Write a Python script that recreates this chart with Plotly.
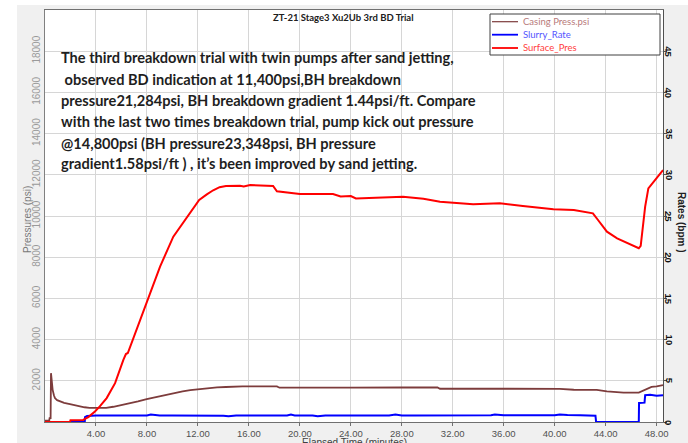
import plotly.graph_objects as go

# ---------------- data ----------------
series_names = ["Casing Press.psi", "Slurry_Rate", "Surface_Pres"]

casing_t = [0, 0.33, 0.36, 0.44, 0.47, 0.52, 0.6, 0.7, 0.78, 0.95, 1.18, 1.5, 1.96, 2.4,
            2.75, 3.1, 3.5, 4.0, 4.3, 4.8, 5.36, 6.0, 6.67, 7.3, 7.98, 8.6, 9.3, 10.07,
            10.8, 11.4, 12.03, 12.8, 13.5, 14.2, 14.8, 15.5, 16.5, 17.5, 18.2, 18.4,
            20, 22, 24, 28, 30.8, 31.0, 34, 38, 40.4, 41.5, 43.3, 44.1, 45.4, 46.6,
            47.2, 47.6, 48.0, 48.5]
casing_psi = [60, 60, 190, 190, 2370, 1900, 1560, 1300, 1160, 1060, 1000, 930, 868, 800,
              755, 715, 690, 676, 674, 690, 740, 820, 917, 1000, 1110, 1200, 1300, 1403,
              1490, 1550, 1597, 1640, 1677, 1700, 1725, 1730, 1730, 1730, 1725, 1665,
              1660, 1660, 1670, 1675, 1677, 1615, 1612, 1612, 1612, 1565, 1560, 1485, 1430, 1430,
              1600, 1700, 1730, 1790]

slurry_t = [0, 3.12, 3.14, 3.3, 4.0, 5.0, 6.0, 7.0, 8.0, 8.3, 9.0, 10.0, 11.0, 12.0, 13.0,
            14.0, 14.4, 15.0, 16.0, 17.0, 18.0, 19.0, 19.3, 19.6, 20.0, 21.0, 21.4, 22.0,
            23.0, 24.0, 25.0, 26.0, 27.0, 27.5, 28.0, 29.0, 30.0, 31.0, 32.0, 33.0, 34.0,
            35.0, 35.3, 36.0, 37.0, 38.0, 39.0, 40.0, 40.4, 41.0, 42.0, 43.0, 43.2, 43.25,
            46.6, 46.62, 47.05, 47.1, 47.5, 48.0, 48.5]
slurry_bpm = [0, 0, 0.6, 0.72, 0.78, 0.8, 0.82, 0.8, 0.8, 0.9, 0.8, 0.8, 0.8, 0.79, 0.78,
              0.76, 0.7, 0.8, 0.8, 0.8, 0.78, 0.8, 0.92, 0.8, 0.8, 0.8, 0.7, 0.8,
              0.8, 0.8, 0.8, 0.78, 0.8, 0.9, 0.8, 0.8, 0.8, 0.8, 0.8, 0.8, 0.8,
              0.82, 0.92, 0.82, 0.82, 0.82, 0.82, 0.82, 0.92, 0.84, 0.82, 0.76, 0.76, 0,
              0, 2.3, 2.35, 3.25, 3.3, 3.2, 3.25]

surface_t = [0, 1.96, 2.0, 3.0, 3.14, 3.4, 3.92, 4.3, 4.84, 5.5, 6.15, 6.35, 6.5, 6.93,
             7.98, 9.03, 10.07, 11.0, 12.1, 12.7, 13.2, 13.7, 14.2, 15.3, 15.6, 16.1,
             17.4, 17.9, 18.2, 19.2, 19.5, 20.0, 22.6, 23.2, 24.0, 24.4, 26.5, 28.1,
             29.7, 31.0, 33.6, 35.7, 37.5, 39.9, 41.5, 43.0, 43.4, 43.7, 44.1, 44.9,
             45.7, 46.6, 46.75, 47.1, 47.35, 47.9, 48.3, 48.5]
surface_psi = [0, 0, 90, 100, 150, 238, 513, 755, 1160, 1887, 3018, 3300, 3350, 4068,
               5766, 7543, 8998, 9806, 10776, 11050, 11250, 11400, 11455, 11470, 11430, 11503,
               11490, 11460, 11200, 11130, 11090, 11067, 11067, 10950, 10970, 10850, 10900, 10937,
               10840, 10695, 10565, 10614, 10485, 10323, 10291, 10130, 9806, 9564, 9240, 8917,
               8675, 8433, 8550, 10452, 11341, 11745, 12069, 12230]

x_ticks = [4, 8, 12, 16, 20, 24, 28, 32, 36, 40, 44, 48]
psi_ticks = [2000, 4000, 6000, 8000, 10000, 12000, 14000, 16000, 18000]
rate_ticks = [0, 5, 10, 15, 20, 25, 30, 35, 40, 45]

chart_title = "ZT-21 Stage3 Xu2Ub 3rd BD Trial"
note_lines = [
    "The third breakdown trial with twin pumps after sand jetting,",
    " observed BD indication at 11,400psi,BH breakdown",
    "pressure21,284psi, BH breakdown gradient 1.44psi/ft. Compare",
    "with the last two times breakdown trial, pump kick out pressure",
    "@14,800psi (BH pressure23,348psi, BH pressure",
    "gradient1.58psi/ft ) , it\u2019s been improved by sand jetting.",
]

# ---------------- geometry helpers ----------------
W, H = 688, 443
ML, MR, MT, MB = 45, 25, 10, 21
PW, PH = W - ML - MR, H - MT - MB


def px(p):
    return (p - ML) / PW


def py(p):
    return (H - MB - p) / PH


line_colors = ["#7d3c3c", "#0000ff", "#ff0000"]
legend_text_colors = ["#b87a7a", "#5555ff", "#ff4040"]
ui_font = "Lato, Liberation Sans, sans-serif"
tick_font = "Liberation Sans, Arial, sans-serif"

fig = go.Figure()
fig.add_trace(go.Scatter(x=slurry_t, y=slurry_bpm, name=series_names[1], mode="lines",
                         line=dict(color=line_colors[1], width=2), yaxis="y", showlegend=False))
fig.add_trace(go.Scatter(x=casing_t, y=casing_psi, name=series_names[0], mode="lines",
                         line=dict(color=line_colors[0], width=1.8), yaxis="y2", showlegend=False))
fig.add_trace(go.Scatter(x=surface_t, y=surface_psi, name=series_names[2], mode="lines",
                         line=dict(color=line_colors[2], width=2), yaxis="y2", showlegend=False))

shapes = [
    dict(type="rect", xref="paper", yref="paper", x0=px(17), x1=px(W + 2), y0=py(H + 2), y1=py(5),
         fillcolor="#f0f0f0", line=dict(width=0), layer="below"),
    dict(type="rect", xref="paper", yref="paper", x0=0, x1=1, y0=0, y1=1,
         fillcolor="white", line=dict(width=0), layer="below"),
    # legend box
    dict(type="rect", xref="paper", yref="paper", x0=px(490), x1=px(660), y0=py(55), y1=py(14),
         fillcolor="white", line=dict(color="#404040", width=1)),
]
annotations = []
leg_y = [21.7, 34.7, 48.0]
for i, idx in enumerate([0, 1, 2]):
    shapes.append(dict(type="line", xref="paper", yref="paper", x0=px(492), x1=px(518),
                       y0=py(leg_y[i]), y1=py(leg_y[i]),
                       line=dict(color=line_colors[idx], width=1.2 if idx == 0 else 1.8)))
    annotations.append(dict(xref="paper", yref="paper", x=px(521), y=py(leg_y[i]),
                            xanchor="left", yanchor="middle", showarrow=False,
                            text=series_names[idx],
                            font=dict(family=ui_font, size=9.5, color=legend_text_colors[idx])))

annotations.append(dict(xref="paper", yref="paper", x=px(343), y=py(18), xanchor="center",
                        yanchor="middle", showarrow=False, text="<b>" + chart_title + "</b>",
                        font=dict(family=ui_font, size=9.5, color="#202020")))

note_y = [58, 79, 100, 121, 143, 164]
for yy, t in zip(note_y, note_lines):
    annotations.append(dict(xref="paper", yref="paper", x=px(59), y=py(yy), xanchor="left",
                            yanchor="middle", showarrow=False, text="<b>" + t + "</b>",
                            font=dict(family="Lato, Open Sans, sans-serif", size=14.6, color="#1e1e1e")))

for v in rate_ticks:
    annotations.append(dict(xref="paper", yref="y", x=px(669), y=v, xanchor="center",
                            yanchor="middle", showarrow=False, text="<b>%d</b>" % v, textangle=90,
                            font=dict(family=tick_font, size=9.5, color="#111111")))

annotations.append(dict(xref="paper", yref="paper", x=px(27), y=py(220), xanchor="center",
                        yanchor="middle", showarrow=False, text="Pressures (psi)", textangle=-90,
                        font=dict(family=tick_font, size=10, color="#7a7a7a")))
annotations.append(dict(xref="paper", yref="paper", x=px(682), y=py(222), xanchor="center",
                        yanchor="middle", showarrow=False, text="<b>Rates (bpm )</b>", textangle=90,
                        font=dict(family=tick_font, size=10, color="#202020")))
annotations.append(dict(xref="paper", yref="paper", x=px(354), y=py(442), xanchor="center",
                        yanchor="middle", showarrow=False, text="Elapsed Time (minutes)",
                        font=dict(family=tick_font, size=10, color="#404040")))

grid = "#d6d6d6"
fig.update_layout(
    width=W, height=H,
    margin=dict(l=ML, r=MR, t=MT, b=MB, autoexpand=False),
    paper_bgcolor="white", plot_bgcolor="white",
    showlegend=False,
    shapes=shapes, annotations=annotations,
    xaxis=dict(range=[0, 48.5], tickvals=x_ticks, ticktext=[f"{v:.2f}" for v in x_ticks],
               showgrid=True, gridcolor=grid, gridwidth=1, zeroline=False,
               showline=True, linecolor="#707070", linewidth=1, mirror=True,
               ticks="outside", ticklen=3, tickcolor="#707070", automargin=False,
               tickfont=dict(family=tick_font, size=9.5, color="#505050")),
    yaxis=dict(side="right", range=[0, 50], tickvals=rate_ticks, showticklabels=False,
               showgrid=True, gridcolor=grid, gridwidth=1, zeroline=False,
               showline=True, linecolor="#505050", linewidth=1, automargin=False,
               ticks="outside", ticklen=3, tickcolor="#505050"),
    yaxis2=dict(side="left", overlaying="y", range=[0, 20000], tickvals=psi_ticks,
                ticktext=[str(v) for v in psi_ticks], tickangle=-90, automargin=False,
                showgrid=False, zeroline=False, showline=True, linecolor="#808080", linewidth=1,
                ticks="",
                tickfont=dict(family=tick_font, size=10, color="#9a9a9a")),
)

fig.write_html("out.html", config={"displayModeBar": False},
               post_script="document.body.style.margin='0';document.body.style.overflow='hidden';")
